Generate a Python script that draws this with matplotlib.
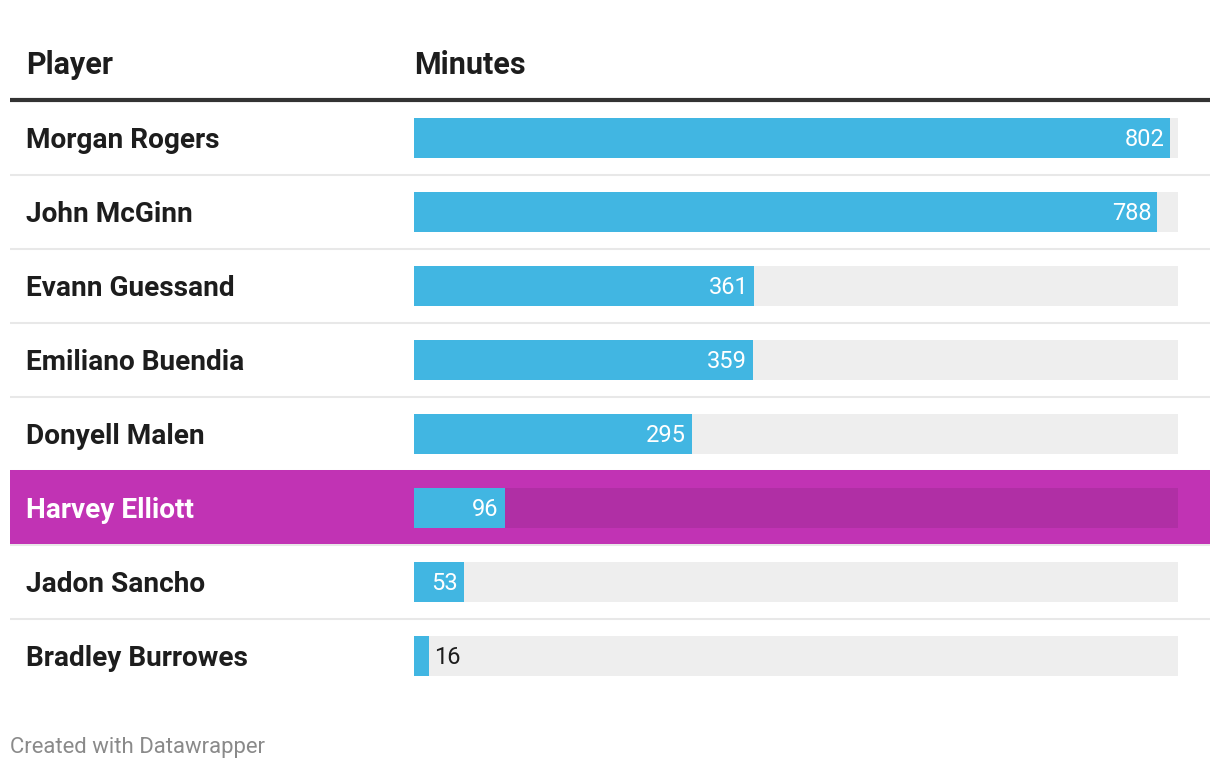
import matplotlib
matplotlib.use("Agg")
import matplotlib.pyplot as plt
from matplotlib.patches import Rectangle

players = ["Morgan Rogers", "John McGinn", "Evann Guessand", "Emiliano Buendia",
           "Donyell Malen", "Harvey Elliott", "Jadon Sancho", "Bradley Burrowes"]
minutes = [802, 788, 361, 359, 295, 96, 53, 16]
highlight = "Harvey Elliott"
col_headers = ["Player", "Minutes"]
footer = "Created with Datawrapper"
track_max = 810

W, H = 1220, 768
fig = plt.figure(figsize=(W / 100, H / 100), dpi=100)
plt.rcParams['font.family'] = ['Roboto', 'DejaVu Sans']

# background axes in pixel coordinates
bg = fig.add_axes([0, 0, 1, 1])
bg.set_xlim(0, W)
bg.set_ylim(H, 0)
bg.axis("off")

row_top = 101
row_h = 74
n = len(players)

BLUE = "#41b6e2"
TRACK = "#eeeeee"
HL = "#c133b4"
HL_TRACK = "#b02fa5"
DARK = "#1d1d1d"

# header
bg.text(26, 65, col_headers[0], fontsize=22, fontweight="bold", color=DARK, va="center", ha="left")
bg.text(414, 65, col_headers[1], fontsize=22, fontweight="bold", color=DARK, va="center", ha="left")
bg.plot([10, 1210], [100, 100], color="#333333", lw=3, solid_capstyle="butt")

for i, p in enumerate(players):
    y0 = row_top + i * row_h
    if i > 0:
        bg.plot([10, 1210], [y0, y0], color="#e8e8e8", lw=1.5, solid_capstyle="butt", zorder=1)
    if p == highlight:
        bg.add_patch(Rectangle((10, y0 - 1), 1200, row_h, color=HL, zorder=2, lw=0))
    bg.text(26, y0 + row_h / 2 + 2, p, fontsize=20.2, fontweight="bold",
            color="white" if p == highlight else DARK, va="center", ha="left", zorder=3)

bg.text(10, 747, footer, fontsize=15.9, color="#8a8a8a", va="center", ha="left")

# bar axes
bx = fig.add_axes([414 / W, 1 - (row_top + n * row_h) / H, 764 / W, n * row_h / H])
bx.set_xlim(0, track_max)
bx.set_ylim(n - 0.5, -0.5)
bx.axis("off")
bx.patch.set_alpha(0)
ypos = list(range(n))
bh = 40 / row_h
track_colors = [HL_TRACK if p == highlight else TRACK for p in players]
bx.barh(ypos, [track_max] * n, height=bh, color=track_colors, lw=0, zorder=1)
bx.barh(ypos, minutes, height=bh, color=BLUE, lw=0, zorder=2)

px = track_max / 764.0
for i, v in enumerate(minutes):
    if v >= 30:
        bx.text(v - 6 * px, i + 2 / row_h, str(v), color="white", fontsize=17, ha="right", va="center", zorder=3)
    else:
        bx.text(v + 5 * px, i + 2 / row_h, str(v), color=DARK, fontsize=17, ha="left", va="center", zorder=3)

fig.savefig("out.png", dpi=100)
